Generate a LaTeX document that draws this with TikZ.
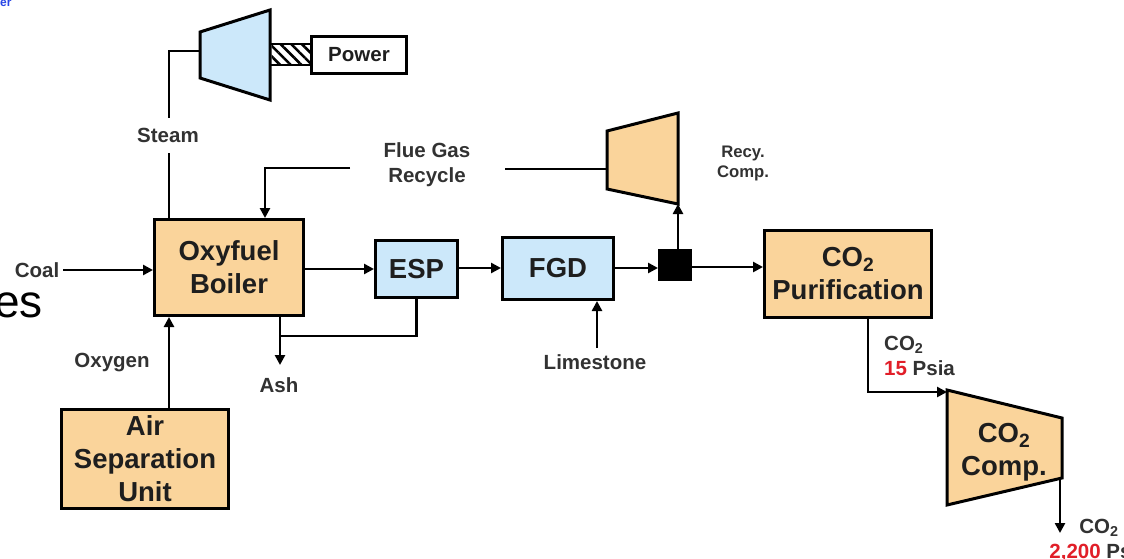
\documentclass[tikz,border=0pt]{standalone}
\usepackage{fontspec}
\setmainfont{Liberation Sans}
\usetikzlibrary{arrows.meta, patterns.meta}
\definecolor{orng}{RGB}{250,212,155}
\definecolor{lblue}{RGB}{204,232,250}
\definecolor{ink}{RGB}{30,30,30}
\definecolor{lbltext}{RGB}{50,50,50}
\definecolor{redt}{RGB}{225,30,40}
\definecolor{bluet}{RGB}{40,70,230}
\newcommand{\boxfont}{\bfseries\fontsize{27.5}{33}\selectfont}
\newcommand{\lblfont}{\bfseries\fontsize{20.5}{25}\selectfont}
\newcommand{\smlfont}{\bfseries\fontsize{16.7}{20}\selectfont}
\tikzset{
  box/.style={draw=black, line width=3pt, inner sep=0pt, align=center, font=\boxfont, text=ink},
  obox/.style={box, fill=orng},
  bbox/.style={box, fill=lblue},
  lbl/.style={font=\lblfont, text=lbltext, align=center, inner sep=0pt},
  flow/.style={line width=2.9pt, draw=black},
  arr/.style={flow, -{Triangle[length=10pt,width=10pt]}},
  machine/.style={draw=black, line width=3pt, line join=miter},
}
\begin{document}
\begin{tikzpicture}[x=1pt, y=-1pt]
\clip (0,0) rectangle (1124,559);
\fill[white] (0,0) rectangle (1124,559);

% stray slide text
\node[anchor=base west, inner sep=0pt, text=bluet, font=\bfseries\fontsize{12}{12}\selectfont] (er) at (0,7) {er};
\node[anchor=base east, inner sep=0pt, text=black, font=\fontsize{46}{46}\selectfont] (es) at (43,317) {es};

% boxes
\node[obox, minimum width=149pt, minimum height=96pt] (boiler) at (229,267.5) {Oxyfuel\\Boiler};
\node[bbox, minimum width=82pt, minimum height=57pt] (esp) at (416.5,269) {ESP};
\node[bbox, minimum width=111pt, minimum height=62pt] (fgd) at (558,268.5) {FGD};
\node[obox, minimum width=167pt, minimum height=87pt] (pur) at (848,274) {CO\textsubscript{2}\\Purification};
\node[obox, minimum width=167pt, minimum height=99pt] (asu) at (145,459) {Air\\Separation\\Unit};
\node[box, fill=white, minimum width=95pt, minimum height=37pt, font=\lblfont] (power) at (359,55) {Power};
\node[draw=black, fill=black, line width=2pt, minimum width=32pt, minimum height=30pt, inner sep=0pt] (split) at (675,265) {};

% steam turbine
\coordinate (tA) at (200,32); \coordinate (tB) at (270,10);
\coordinate (tC) at (270,100); \coordinate (tD) at (200,78);
\coordinate (tIn) at (200,51);
\filldraw[machine, fill=lblue] (tA) -- (tB) -- (tC) -- (tD) -- cycle;
% shaft
\fill[pattern={Lines[angle=-45, distance=7.5pt, line width=2.6pt]}] (271.5,44) rectangle (310,65);
\draw[line width=2.5pt] (270,44) -- (310,44) (270,65) -- (310,65);

% recycle compressor
\coordinate (rA) at (607,131); \coordinate (rB) at (678,113);
\coordinate (rC) at (678,204); \coordinate (rD) at (607,189);
\coordinate (rIn) at (607,169);
\filldraw[machine, fill=orng] (rA) -- (rB) -- (rC) -- (rD) -- cycle;

% CO2 compressor
\coordinate (cA) at (947,390); \coordinate (cB) at (1062,418);
\coordinate (cC) at (1062,478); \coordinate (cD) at (947,505);
\filldraw[machine, fill=orng] (cA) -- (cB) -- (cC) -- (cD) -- cycle;
\node[font=\boxfont, text=ink, align=center, inner sep=0pt] (ctext) at (1004,452) {CO\textsubscript{2}\\Comp.};

% labels
\node[lbl] (steam) at (168,135) {Steam};
\node[lbl] (fgr) at (427,165) {Flue Gas\\Recycle};
\node[lbl, font=\smlfont] (recy) at (743,163) {Recy.\\Comp.};
\node[lbl] (coal) at (37,270) {Coal};
\node[lbl] (oxy) at (112,363) {Oxygen};
\node[lbl] (ash) at (279,385) {Ash};
\node[lbl] (lime) at (595,362) {Limestone};
\node[lbl, align=left, anchor=west] (p15) at (884,356) {CO\textsubscript{2}\\\textcolor{redt}{15} Psia};
\node[lbl] (p2200) at (1099,540) {CO\textsubscript{2}\\\textcolor{redt}{2,200} Psia};

% coordinates for connectors
\coordinate (stTop) at (169,118);
\coordinate (stBot) at (169,153);
\coordinate (fgrL) at (350,168);
\coordinate (fgrR) at (505,169);
\coordinate (ashEnd) at (280,365);
\coordinate (ashJ) at (280,336);
\coordinate (limeTop) at (597,348);
\coordinate (purJ) at (868,392);
\coordinate (outEnd) at (1060,533);

% connectors
\draw[flow] (tIn) -| (stTop);
\draw[flow] (stBot) -- (stBot |- boiler.north);
\draw[arr] (fgrL) -| ([xshift=36pt]boiler.north);
\draw[flow] (fgrR) -- (rIn);
\draw[arr] (split.north -| rC) -- (rC);
\draw[arr] ([xshift=4pt]coal.east) -- (coal.east -| boiler.west);
\draw[arr] (asu.north -| stTop) -- (boiler.south -| stTop);
\draw[arr] (boiler.south -| ashEnd) -- (ashEnd);
\draw[flow] (esp.south) |- (ashJ);
\draw[arr] (boiler.east |- esp.west) -- (esp.west);
\draw[arr] (esp.east |- 0,268) -- (fgd.west |- 0,268);
\draw[arr] (limeTop) -- (limeTop |- fgd.south);
\draw[arr] (fgd.east |- 0,268) -- (split.west |- 0,268);
\draw[arr] (split.east |- 0,267) -- (pur.west |- 0,267);
\draw[arr] (pur.south -| purJ) |- (cA |- purJ);
\draw[arr] (cC -| outEnd) -- (outEnd);
\end{tikzpicture}
\end{document}
